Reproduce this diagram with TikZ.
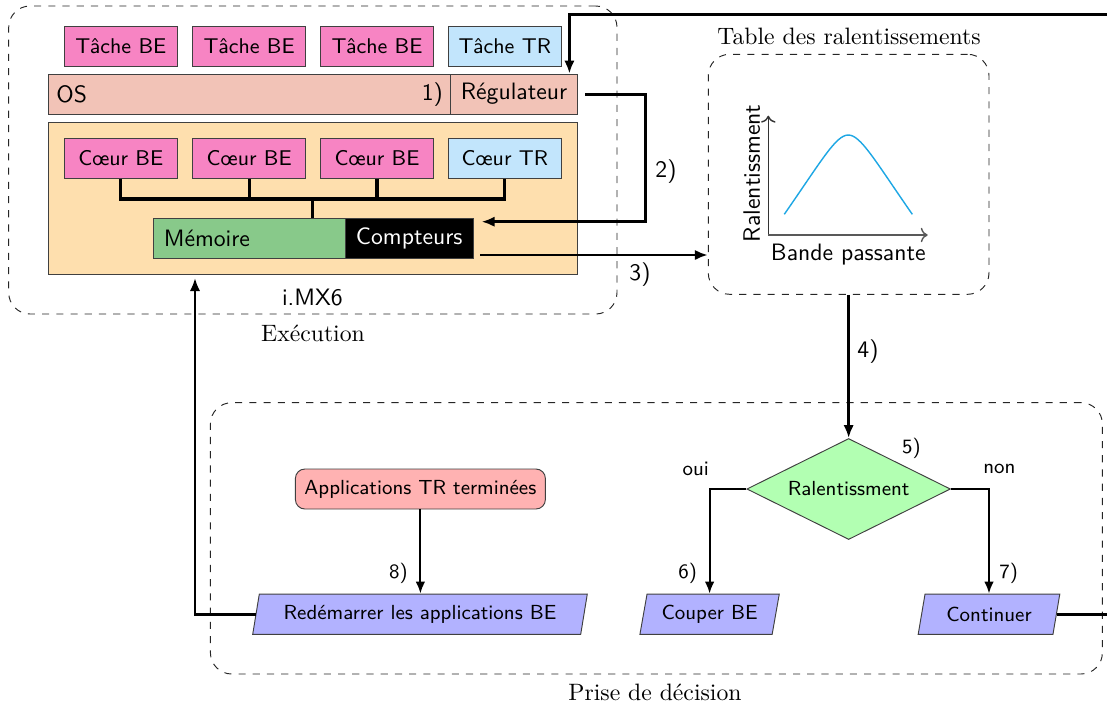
\documentclass[tikz,border=0pt]{standalone}
\usepackage{fontspec}
\usetikzlibrary{shapes.geometric,arrows.meta}
\def\pxu{0.422pt}
\definecolor{bepink}{HTML}{F784C3}
\definecolor{trblue}{HTML}{C2E5FC}
\definecolor{osc}{HTML}{F2C3B7}
\definecolor{socc}{HTML}{FEDFAE}
\definecolor{memc}{HTML}{88C98A}
\definecolor{curvec}{HTML}{1EA7E4}
\newcommand{\decfont}{\sffamily\fontsize{8.6}{10}\selectfont}
\begin{document}
\begin{tikzpicture}[x=0.422pt,y=-0.422pt,
  box/.style={draw=black!75, line width=0.4pt, inner sep=0pt, minimum width=112.5*\pxu, minimum height=39.5*\pxu, font=\sffamily\small},
  dashbox/.style={draw=black!85, dashed, line width=0.4pt, rounded corners=9pt, inner sep=0pt},
  arr/.style={-{Latex[length=5.5pt,width=4.4pt]}, line width=1.2pt},
  farr/.style={-{Latex[length=5pt,width=4pt]}, line width=0.85pt},
  bus/.style={line width=1.4pt},
  para/.style={trapezium, trapezium left angle=76, trapezium right angle=104, trapezium stretches=true, draw=black!75, fill=blue!30, minimum height=40.3*\pxu, inner sep=1pt, font=\decfont},
  lbl/.style={font=\sffamily},
  slbl/.style={font=\decfont},
  ttl/.style={font=\rmfamily}]
\clip (0,0) rectangle (1107,704);
\useasboundingbox (0,0) rectangle (1107,704);

% Execution block
\node[dashbox, minimum width=608.3*\pxu, minimum height=308*\pxu] (exec) at (312.85,160) {};
\node[ttl] (execlbl) at (313,333) {Exécution};

\node[box, fill=bepink] (t1) at (120.8,46.3) {Tâche BE};
\node[box, fill=bepink] (t2) at (249.2,46.3) {Tâche BE};
\node[box, fill=bepink] (t3) at (377,46.3) {Tâche BE};
\node[box, fill=trblue] (t4) at (504.8,46.3) {Tâche TR};

\node[box, fill=osc, minimum width=402.2*\pxu, minimum height=40.3*\pxu] (os) at (249.7,94.2) {};
\node[box, fill=osc, minimum width=126.5*\pxu, minimum height=40.3*\pxu, font=\sffamily] (reg) at (514.05,94.2) {Régulateur};
\node[lbl, anchor=west] (ostxt) at (os.west) {OS};
\node[lbl, anchor=east] (one) at (os.east) {1)};

\node[box, fill=socc, minimum width=528.7*\pxu, minimum height=151.7*\pxu] (imx) at (313,198.2) {};
\node[box, fill=bepink] (c1) at (120.8,158.3) {Cœur BE};
\node[box, fill=bepink] (c2) at (249.2,158.3) {Cœur BE};
\node[box, fill=bepink] (c3) at (377,158.3) {Cœur BE};
\node[box, fill=trblue] (c4) at (504.8,158.3) {Cœur TR};

\node[box, fill=memc, minimum width=192.2*\pxu, minimum height=40*\pxu] (mem) at (249.1,238.3) {};
\node[lbl, anchor=west, inner sep=0pt] (memtxt) at (163.3,238.3) {Mémoire};
\node[box, fill=black, text=white, minimum width=128.1*\pxu, minimum height=40*\pxu, font=\sffamily] (cpt) at (409.25,238.3) {Compteurs};

\coordinate (bus) at (312.6,199);
\draw[bus] (c1.south) -- (c1.south |- bus) -- (c4.south |- bus) -- (c4.south);
\draw[bus] (c2.south) -- (c2.south |- bus);
\draw[bus] (c3.south) -- (c3.south |- bus);
\draw[bus] (bus) -- (bus |- mem.north);

\node[lbl] (imxlbl) at (312.4,297.7) {i.MX6};

% Table
\node[dashbox, minimum width=280.7*\pxu, minimum height=240*\pxu] (tab) at (848.65,174.3) {};
\node[ttl] (tabttl) at (849,36.7) {Table des ralentissements};
\coordinate (o) at (768.3,235);
\coordinate (ytop) at (768.3,115.7);
\coordinate (xend) at (927.7,235);
\draw[black!80, line width=0.6pt, ->] (o) -- (ytop);
\draw[black!65, line width=0.6pt, ->] (o) -- (xend);
\draw[curvec, line width=0.6pt] (784.3,214.3) .. controls (822,160) and (836,135) .. (848.3,135) .. controls (860.6,135) and (874.6,160) .. (912.3,214.3);
\node[lbl, rotate=90] (ylab) at (751.7,173.3) {Ralentissment};
\node[lbl] (xlab) at (848.3,255) {Bande passante};

% Decision block
\node[dashbox, minimum width=892*\pxu, minimum height=271.3*\pxu] (dec) at (656.4,538.35) {};
\node[ttl] (declbl) at (655,692.7) {Prise de décision};

\node[diamond, aspect=2, draw=black!75, fill=green!30, minimum width=203.6*\pxu, minimum height=101*\pxu, inner sep=0pt, font=\decfont] (dia) at (848.65,489) {Ralentissment};
\node[slbl] (l5) at (911.5,448.3) {5)};
\node[slbl] (oui) at (695.7,469) {oui};
\node[slbl] (non) at (999.4,469) {non};

\node[para, minimum width=140*\pxu] (coup) at (709.6,614.2) {Couper BE};
\node[para, minimum width=142*\pxu] (cont) at (989,614.2) {Continuer};
\node[para, minimum width=335*\pxu] (redem) at (420,614.2) {Redémarrer les applications BE};
\node[draw=black!75, fill=red!30, rounded corners=4pt, minimum width=250*\pxu, minimum height=40*\pxu, inner sep=0pt, font=\decfont] (app) at (420.4,489) {Applications TR terminées};

\draw[farr] (dia.west) -| (coup.north);
\draw[farr] (dia.east) -| (cont.north);
\draw[farr] (app.south) -- (app.south |- redem.north);
\node[slbl] (l6) at (687.6,573.3) {6)};
\node[slbl] (l7) at (1008.7,573.3) {7)};
\node[slbl] (l8) at (398.4,573.3) {8)};

% Main connectors
\coordinate (topc) at (569.4,14.3);
\coordinate (rgt) at (1120,14.3);
\draw[arr] (cont.east) -- (cont.east -| rgt) -- (rgt) -- (topc) -- (topc |- reg.north);

\coordinate (c2a) at (645.7,94.2);
\coordinate (in2) at (481.6,221.7);
\draw[arr, shorten <=3.25pt] (reg.east) -- (c2a) |- (in2);
\node[lbl] (l2) at (666,171.7) {2)};

\coordinate (out3) at (480.4,255);
\draw[arr] (out3) -- (tab.west |- out3);
\node[lbl] (l3) at (640,275) {3)};

\draw[arr] (tab.south) -- (dia.north);
\node[lbl] (l4) at (868,352) {4)};

\coordinate (up8) at (195,278);
\draw[arr] (redem.west) -| (up8);
\end{tikzpicture}
\end{document}
